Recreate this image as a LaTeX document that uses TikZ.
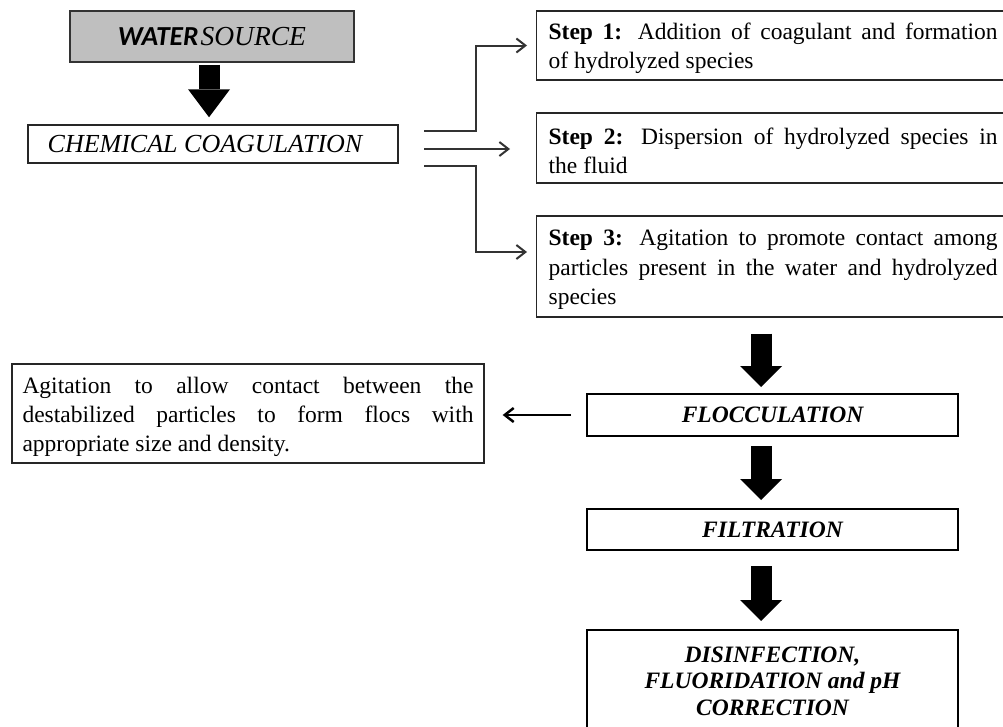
\documentclass[tikz,border=0pt]{standalone}
\usepackage{fontspec}
\setmainfont{Liberation Serif}
\newfontfamily\calfont{Carlito}
\usetikzlibrary{arrows.meta}
\tikzstyle{bx}=[draw=black!85, line width=1.3pt, inner sep=0pt]
\tikzstyle{hd}=[draw=black, line width=2pt, minimum width=371pt, inner sep=0pt, align=center, font=\fontsize{23.5}{26.5}\selectfont\bfseries\itshape]
\tikzstyle{st}=[bx, anchor=west, text width=449pt, inner xsep=12pt, align=justify, font=\fontsize{23.5}{29.5}\selectfont, execute at begin node={\rule{0pt}{22pt}}]
\tikzstyle{ln}=[draw=black!80, line width=2pt, -{Straight Barb[length=9pt,width=14pt]}]
\tikzstyle{blk}=[line width=21pt, -{Triangle[width=42pt,length=21pt,line width=0pt]}]

\begin{document}
\begin{tikzpicture}[x=1pt, y=-1pt]
\useasboundingbox (0,0) rectangle (1003,726);

\node[draw=black!80, line width=1.8pt, fill=black!25, minimum width=284pt, minimum height=51pt, font=\fontsize{27.5}{30}\selectfont] (water) at (212,36.5) {{\calfont\bfseries\itshape WATER}\hspace{2pt}{\itshape SOURCE}};
\node[bx, line width=1.5pt, minimum width=370pt, minimum height=38pt, font=\fontsize{26}{28}\selectfont\itshape] (chem) at (213,144) {CHEMICAL COAGULATION\hspace*{16pt}};

\node[st, minimum height=69pt] (step1) at (536,45.5) {\textbf{Step 1:} Addition of coagulant and formation\linebreak of hydrolyzed species};
\node[st, minimum height=70pt] (step2) at (536,148) {\textbf{Step 2:} Dispersion of hydrolyzed species in\linebreak the fluid};
\node[st, minimum height=101pt] (step3) at (536,266.5) {\textbf{Step 3:} Agitation to promote contact among\linebreak particles present in the water and hydrolyzed\linebreak species};

\node[bx, text width=451pt, inner xsep=10.5pt, minimum height=99pt, align=justify, font=\fontsize{23.5}{29}\selectfont, execute at begin node={\rule{0pt}{23pt}}] (agit) at (248,413.5) {Agitation to allow contact between the\linebreak destabilized particles to form flocs with\linebreak appropriate size and density.};

\node[hd, minimum height=42pt] (floc) at (772.5,415) {FLOCCULATION};
\node[hd, minimum height=41pt] (filt) at (772.5,529.5) {FILTRATION};
\node[hd, anchor=north, minimum height=102pt] (dis) at (772.5,629) {DISINFECTION,\\FLUORIDATION and pH\\CORRECTION};

\coordinate (a1) at (209,0);
\coordinate (a2) at (761,0);
\coordinate (c1) at (424,131);
\coordinate (c2) at (424,149);
\coordinate (c3) at (424,166);

\draw[blk, -{Triangle[width=42pt,length=28pt,line width=0pt]}, shorten <=2pt, shorten >=7pt] (water.south -| a1) -- (chem.north -| a1);
\draw[blk, shorten <=16pt, shorten >=6pt] (step3.south -| a2) -- (floc.north -| a2);
\draw[blk, shorten <=9pt, shorten >=8pt] (floc.south -| a2) -- (filt.north -| a2);
\draw[blk, shorten <=15pt, shorten >=8pt] (filt.south -| a2) -- (dis.north -| a2);

\draw[ln, shorten >=9pt] (c1) -- ++(52,0) |- (step1.west);
\draw[ln, shorten >=26pt] (c2) -- (c2 -| step2.west);
\draw[ln, shorten >=9pt] (c3) -- ++(52,0) |- ([yshift=14.5pt]step3.west);

\draw[ln, draw=black, line width=2.5pt, shorten <=15pt, shorten >=18pt] (floc.west) -- (floc.west -| agit.east);

\end{tikzpicture}
\end{document}
